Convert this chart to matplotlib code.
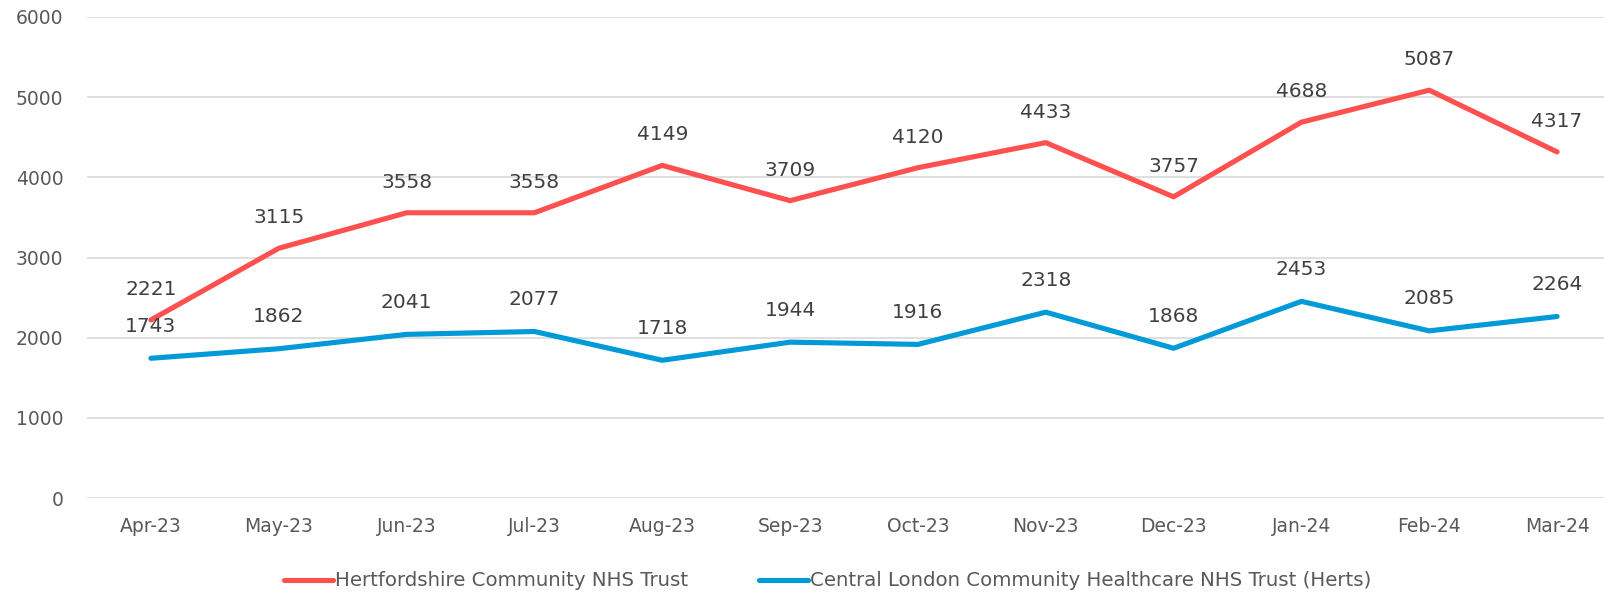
import matplotlib.pyplot as plt
import numpy as np

months = ['Apr-23', 'May-23', 'Jun-23', 'Jul-23', 'Aug-23', 'Sep-23',
          'Oct-23', 'Nov-23', 'Dec-23', 'Jan-24', 'Feb-24', 'Mar-24']
herts = [2221, 3115, 3558, 3558, 4149, 3709, 4120, 4433, 3757, 4688, 5087, 4317]
clch = [1743, 1862, 2041, 2077, 1718, 1944, 1916, 2318, 1868, 2453, 2085, 2264]

plt.rcParams['font.family'] = ['DejaVu Sans']
txt = '#404040'

fig = plt.figure(figsize=(16.04, 5.94), dpi=100)
W, H = 1604, 594
ax = fig.add_axes([87 / W, 1 - 498 / H, (1621 - 87) / W, (498 - 17) / H])

x = np.arange(len(months))
ax.plot(x, herts, color='#FF5050', lw=3.7, solid_capstyle='round',
        label='Hertfordshire Community NHS Trust')
ax.plot(x, clch, color='#009AD8', lw=3.7, solid_capstyle='round',
        label='Central London Community Healthcare NHS Trust (Herts)')

# data labels above each point
for xi, v in zip(x, herts):
    ax.annotate(str(v), (xi, v), xytext=(0, 22), textcoords='offset points',
                ha='center', va='center', fontsize=14.5, color=txt)
for xi, v in zip(x, clch):
    ax.annotate(str(v), (xi, v), xytext=(0, 23), textcoords='offset points',
                ha='center', va='center', fontsize=14.5, color=txt)

ax.set_xlim(-0.5, len(months) - 0.5)
ax.set_ylim(0, 6000)
ax.set_yticks(np.arange(0, 6001, 1000))
ax.set_xticks(x)
ax.set_xticklabels(months)
ax.grid(axis='y', color='#D9D9D9', lw=1.2)
ax.set_axisbelow(True)
for s in ax.spines.values():
    s.set_visible(False)
ax.tick_params(length=0, labelsize=13.5, labelcolor='#595959')
ax.tick_params(axis='x', pad=14)
ax.tick_params(axis='y', pad=17)

leg = fig.legend(loc='center', bbox_to_anchor=(0.516, 1 - 581 / H), ncol=2,
                 frameon=False, fontsize=14.2, handlelength=2.5,
                 handletextpad=0.1, columnspacing=3.6)
for t in leg.get_texts():
    t.set_color('#595959')

fig.savefig('out.png', dpi=100)
